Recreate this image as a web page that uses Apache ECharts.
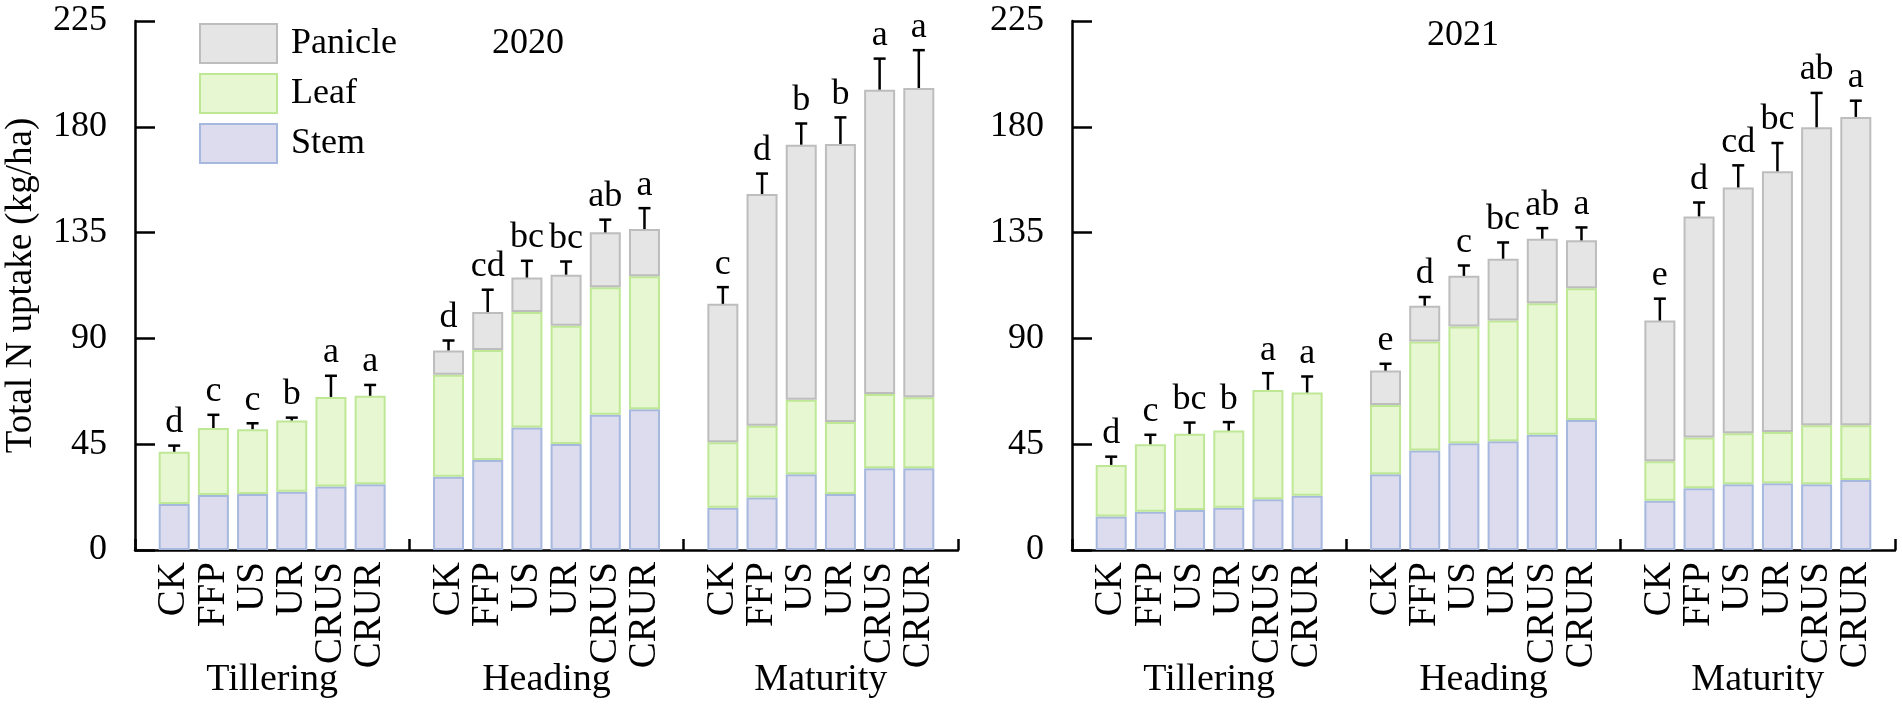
<!DOCTYPE html>
<html>
<head>
<meta charset="UTF-8">
<title>Total N uptake</title>
<script src="https://cdn.jsdelivr.net/npm/echarts@6/dist/echarts.min.js"></script>
<style>
  html, body { margin: 0; padding: 0; background: #fff; }
  #main { width: 1902px; height: 710px; }
</style>
</head>
<body>
<div id="main"></div>
<script>
var treatments = ['CK', 'FFP', 'US', 'UR', 'CRUS', 'CRUR'];
var stages = ['Tillering', 'Heading', 'Maturity'];
var years = ['2020', '2021'];
var yTicks = [0, 45, 90, 135, 180, 225];

// order: Tillering x6, Heading x6, Maturity x6
var stem2020 = [19.6, 23.4, 23.8, 24.8, 27.0, 28.0, 31.2, 38.3, 52.1, 45.1, 57.5, 59.9, 18.0, 22.3, 32.2, 23.8, 34.8, 34.8];
var leaf2020 = [22.2, 28.5, 27.6, 30.3, 38.1, 37.6, 43.3, 46.8, 49.1, 50.3, 54.3, 56.5, 27.8, 30.6, 31.7, 30.6, 31.6, 30.2];
var panicle2020 = [null, null, null, null, null, null, 10.4, 16.1, 14.7, 21.7, 23.3, 20.1, 58.9, 98.5, 108.5, 118.3, 129.4, 131.5];
var sd2020 = [2.6, 5.6, 2.5, 1.2, 9.0, 4.6, 4.2, 9.5, 7.1, 5.6, 5.4, 8.9, 7.1, 8.7, 9.0, 11.3, 13.2, 16.1];
var letters2020 = ['d', 'c', 'c', 'b', 'a', 'a', 'd', 'cd', 'bc', 'bc', 'ab', 'a', 'c', 'd', 'b', 'b', 'a', 'a'];

var stem2021 = [14.2, 16.3, 17.0, 18.0, 21.6, 23.1, 32.2, 42.3, 45.4, 46.3, 49.0, 55.3, 20.9, 26.3, 28.0, 28.4, 28.0, 29.8];
var leaf2021 = [22.0, 28.7, 32.4, 32.8, 46.5, 43.9, 29.5, 46.4, 49.7, 51.3, 56.0, 56.0, 16.9, 21.5, 21.7, 21.8, 25.1, 23.3];
var panicle2021 = [null, null, null, null, null, null, 14.6, 15.2, 21.5, 26.3, 27.4, 20.4, 59.8, 94.1, 104.5, 110.9, 126.7, 131.1];
var sd2021 = [3.5, 4.0, 4.8, 3.6, 7.1, 6.8, 2.9, 3.7, 4.4, 6.9, 4.5, 5.5, 9.3, 5.9, 9.4, 12.0, 14.6, 6.9];
var letters2021 = ['d', 'c', 'bc', 'b', 'a', 'a', 'e', 'd', 'c', 'bc', 'ab', 'a', 'e', 'd', 'cd', 'bc', 'ab', 'a'];

var FONT = '"Liberation Serif", serif';
var colors = {
  Stem: { fill: '#dcdcee', border: '#a6b8de' },
  Leaf: { fill: '#e6f7d2', border: '#bfe896' },
  Panicle: { fill: '#e5e5e5', border: '#bdbdbd' }
};

// x axis: blank slot before each stage and one at the end
var cats = [''];
stages.forEach(function () { cats = cats.concat(treatments, ['']); });

function slotOf(k) { return 1 + Math.floor(k / 6) * 7 + (k % 6); }
function spread(arr) {
  var out = cats.map(function () { return null; });
  arr.forEach(function (v, k) { out[slotOf(k)] = v; });
  return out;
}

var chart = echarts.init(document.getElementById('main'));

var grids = [
  { left: 135, width: 823, top: 21, height: 529 },
  { left: 1072, width: 823, top: 21, height: 529 }
];

var yearData = [
  { stem: stem2020, leaf: leaf2020, panicle: panicle2020, sd: sd2020, letters: letters2020 },
  { stem: stem2021, leaf: leaf2021, panicle: panicle2021, sd: sd2021, letters: letters2021 }
];

var xAxes = [], yAxes = [], series = [];
yearData.forEach(function (d, g) {
  xAxes.push({
    type: 'category', gridIndex: g, data: cats, boundaryGap: false,
    axisLine: { lineStyle: { color: '#000', width: 2.5 } },
    axisTick: { inside: true, length: 11, interval: 0, lineStyle: { color: '#000', width: 2.5 } },
    axisLabel: { interval: 0, rotate: 90, margin: 12, fontSize: 39, fontFamily: FONT, color: '#000' },
    splitLine: { show: false }
  });
  yAxes.push({
    type: 'value', gridIndex: g, min: yTicks[0], max: yTicks[yTicks.length - 1], interval: 45,
    name: g === 0 ? 'Total N uptake (kg/ha)' : '',
    nameLocation: 'middle', nameGap: 95,
    nameTextStyle: { fontSize: 37, fontFamily: FONT, color: '#000' },
    axisLine: { show: true, lineStyle: { color: '#000', width: 2.5 } },
    axisTick: { show: true, inside: true, length: 20, lineStyle: { color: '#000', width: 2.5 } },
    axisLabel: { margin: 28, fontSize: 36, fontFamily: FONT, color: '#000' },
    splitLine: { show: false }
  });

  [['Stem', d.stem], ['Leaf', d.leaf], ['Panicle', d.panicle]].forEach(function (p) {
    series.push({
      name: p[0], type: 'bar', stack: 'y' + g, xAxisIndex: g, yAxisIndex: g,
      barWidth: 31,
      itemStyle: { color: colors[p[0]].fill, borderColor: colors[p[0]].border, borderWidth: 2 },
      data: spread(p[1])
    });
  });

  var errData = d.stem.map(function (s, k) {
    return [slotOf(k), s + d.leaf[k] + (d.panicle[k] || 0), d.sd[k]];
  });
  series.push({
    type: 'custom', xAxisIndex: g, yAxisIndex: g, z: 5,
    data: errData,
    renderItem: function (params, api) {
      var x = api.value(0), top = api.value(1), sd = api.value(2);
      var p0 = api.coord([x, top]);
      var p1 = api.coord([x, top + sd]);
      var ls = { stroke: '#000', lineWidth: 2.5 };
      return {
        type: 'group',
        children: [
          { type: 'line', shape: { x1: p0[0], y1: p0[1], x2: p1[0], y2: p1[1] }, style: ls },
          { type: 'line', shape: { x1: p1[0] - 6, y1: p1[1], x2: p1[0] + 6, y2: p1[1] }, style: ls },
          { type: 'text', style: {
              text: d.letters[params.dataIndex], x: p1[0], y: p1[1] - 5,
              align: 'center', verticalAlign: 'bottom',
              fontSize: 36, fontFamily: FONT, fill: '#000' } }
        ]
      };
    }
  });
});

chart.setOption({
  animation: false,
  backgroundColor: '#fff',
  grid: grids,
  xAxis: xAxes,
  yAxis: yAxes,
  legend: {
    data: ['Panicle', 'Leaf', 'Stem'],
    orient: 'vertical', left: 199, top: 23, padding: 0,
    itemWidth: 77, itemHeight: 39, itemGap: 9, icon: 'rect',
    textStyle: { fontSize: 36, fontFamily: FONT, color: '#000', padding: [0, 0, 0, 9], lineHeight: 39 }
  },
  series: series
});

// year titles and stage names
var graphics = [
  { type: 'text', x: 528, y: 44, style: { text: years[0], align: 'center', verticalAlign: 'middle', fontSize: 36, fontFamily: FONT, fill: '#000' } },
  { type: 'text', x: 1463, y: 36, style: { text: years[1], align: 'center', verticalAlign: 'middle', fontSize: 36, fontFamily: FONT, fill: '#000' } }
];
[0, 1].forEach(function (g) {
  stages.forEach(function (st, s) {
    var a = chart.convertToPixel({ xAxisIndex: g }, 1 + s * 7);
    var b = chart.convertToPixel({ xAxisIndex: g }, 6 + s * 7);
    graphics.push({
      type: 'text', x: (a + b) / 2, y: 680,
      style: { text: st, align: 'center', verticalAlign: 'middle', fontSize: 38, fontFamily: FONT, fill: '#000' }
    });
  });
});
chart.setOption({ graphic: graphics });
</script>
</body>
</html>
